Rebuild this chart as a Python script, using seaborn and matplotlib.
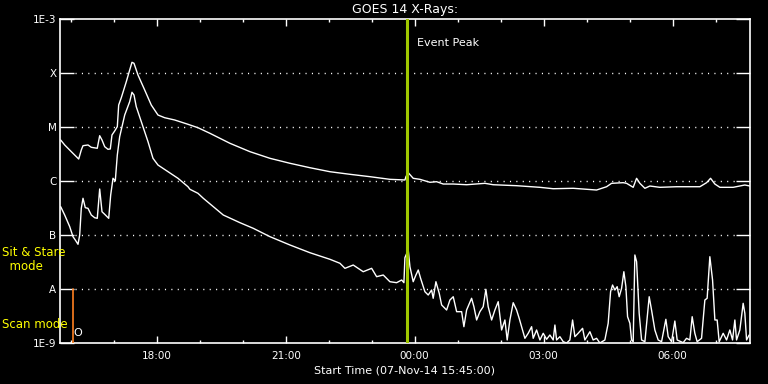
import numpy as np
import pandas as pd
import matplotlib
matplotlib.use("Agg")
import matplotlib.pyplot as plt
import seaborn as sns

# ---------------- data ----------------
# time in hours after start (07-Nov-14 15:45:00), flux as log10(W/m^2)
long_hours = [0.016, 0.109, 0.263, 0.435, 0.495, 0.535, 0.651, 0.728, 0.867, 0.923,
              0.977, 1.040, 1.116, 1.170, 1.209, 1.272, 1.333, 1.365, 1.426, 1.542,
              1.621, 1.674, 1.721, 1.814, 1.970, 2.123, 2.279, 2.435, 2.667, 2.977,
              3.209, 3.488, 3.953, 4.419, 4.884, 5.349, 5.814, 6.279, 6.744, 7.209,
              7.674, 8.023, 8.047, 8.100, 8.216, 8.372, 8.605, 8.760, 8.914, 9.147,
              9.458, 9.884, 10.077, 10.621, 11.163, 11.472, 11.937, 12.481, 12.714, 12.830,
              13.100, 13.179, 13.333, 13.412, 13.488, 13.605, 13.721, 13.953, 14.342, 14.884,
              15.040, 15.133, 15.233, 15.349, 15.658, 15.930, 16.047]
long_log = [-5.241, -5.333, -5.457, -5.593, -5.426, -5.346, -5.333, -5.376, -5.394, -5.161,
            -5.241, -5.365, -5.413, -5.407, -5.148, -5.074, -4.994, -4.593, -4.457, -4.161,
            -3.944, -3.802, -3.820, -4.037, -4.315, -4.593, -4.778, -4.828, -4.870, -4.950,
            -5.013, -5.117, -5.302, -5.457, -5.580, -5.672, -5.754, -5.828, -5.876, -5.920,
            -5.969, -5.981, -5.920, -5.846, -5.950, -5.969, -6.024, -6.013, -6.056, -6.056,
            -6.069, -6.043, -6.069, -6.087, -6.117, -6.143, -6.135, -6.167, -6.106, -6.043,
            -6.031, -6.043, -6.117, -5.950, -6.043, -6.135, -6.093, -6.117, -6.106, -6.106,
            -6.031, -5.950, -6.056, -6.117, -6.117, -6.074, -6.093]

short_hours = [0.016, 0.109, 0.226, 0.302, 0.356, 0.419, 0.458, 0.495, 0.535, 0.588,
               0.651, 0.728, 0.807, 0.867, 0.923, 0.977, 1.040, 1.133, 1.179, 1.233,
               1.286, 1.333, 1.388, 1.505, 1.621, 1.674, 1.721, 1.774, 1.891, 2.047,
               2.163, 2.279, 2.512, 2.744, 2.977, 3.023, 3.209, 3.333, 3.798, 4.186,
               4.495, 4.884, 5.349, 5.814, 6.279, 6.512, 6.628, 6.821, 7.053, 7.249,
               7.365, 7.519, 7.674, 7.830, 7.947, 8.000, 8.023, 8.100, 8.140, 8.216,
               8.279, 8.333, 8.388, 8.488, 8.565, 8.644, 8.681, 8.744, 8.821, 8.877,
               8.993, 9.070, 9.147, 9.226, 9.342, 9.395, 9.458, 9.574, 9.628, 9.691,
               9.767, 9.844, 9.907, 9.960, 10.040, 10.116, 10.193, 10.272, 10.349, 10.402,
               10.465, 10.542, 10.621, 10.681, 10.737, 10.814, 10.891, 10.970, 11.007, 11.086,
               11.163, 11.240, 11.319, 11.395, 11.472, 11.512, 11.551, 11.628, 11.705, 11.784,
               11.860, 11.923, 11.977, 12.053, 12.156, 12.209, 12.326, 12.402, 12.481, 12.558,
               12.674, 12.751, 12.807, 12.853, 12.907, 12.960, 13.007, 13.063, 13.116, 13.163,
               13.202, 13.256, 13.295, 13.333, 13.372, 13.412, 13.472, 13.528, 13.605, 13.705,
               13.760, 13.837, 13.914, 13.993, 14.093, 14.147, 14.226, 14.302, 14.356, 14.495,
               14.574, 14.651, 14.705, 14.767, 14.821, 14.923, 15.000, 15.053, 15.116, 15.179,
               15.233, 15.286, 15.333, 15.426, 15.505, 15.581, 15.644, 15.698, 15.737, 15.814,
               15.891, 15.930, 15.970, 16.030]
short_log = [-6.476, -6.630, -6.846, -7.031, -7.093, -7.172, -7.000, -6.506, -6.320, -6.494,
             -6.506, -6.630, -6.680, -6.691, -6.148, -6.569, -6.617, -6.691, -6.259, -5.950,
             -6.000, -5.519, -5.180, -4.778, -4.531, -4.357, -4.407, -4.624, -4.902, -5.272,
             -5.580, -5.704, -5.828, -5.950, -6.106, -6.154, -6.228, -6.320, -6.630, -6.772,
             -6.876, -7.031, -7.185, -7.328, -7.450, -7.524, -7.617, -7.556, -7.680, -7.617,
             -7.772, -7.741, -7.865, -7.883, -7.833, -7.883, -7.420, -7.278, -7.587, -7.865,
             -7.741, -7.648, -7.802, -8.050, -8.111, -8.019, -8.172, -7.865, -8.080, -8.296,
             -8.389, -8.204, -8.143, -8.420, -8.420, -8.698, -8.389, -8.172, -8.328, -8.574,
             -8.420, -8.328, -8.006, -8.328, -8.574, -8.389, -8.235, -8.759, -8.574, -8.944,
             -8.574, -8.254, -8.389, -8.543, -8.698, -8.913, -8.820, -8.698, -8.913, -8.759,
             -8.944, -8.820, -8.931, -8.852, -8.944, -8.667, -8.944, -8.883, -8.976, -9.000,
             -8.944, -8.574, -8.883, -8.820, -8.728, -8.944, -8.791, -8.944, -8.913, -9.000,
             -8.944, -8.635, -8.050, -7.926, -8.019, -7.957, -8.143, -7.987, -7.680, -7.957,
             -8.513, -8.635, -8.944, -8.976, -7.370, -7.494, -8.450, -8.944, -8.976, -8.143,
             -8.389, -8.759, -8.944, -8.976, -8.561, -8.883, -8.976, -8.593, -8.944, -8.994,
             -8.913, -8.944, -8.513, -8.820, -8.976, -8.913, -8.204, -8.172, -7.402, -7.833,
             -8.574, -8.574, -8.976, -8.820, -8.944, -8.759, -8.944, -8.574, -8.944, -8.759,
             -8.265, -8.450, -8.944, -8.852]

y_tick_values = [1e-9, 1e-8, 1e-7, 1e-6, 1e-5, 1e-4, 1e-3]
y_tick_labels = ["1E-9", "A", "B", "C", "M", "X", "1E-3"]
grid_levels = [1e-8, 1e-7, 1e-6, 1e-5, 1e-4]
x_major_hours = [2.25, 5.25, 8.25, 11.25, 14.25]
x_major_labels = ["18:00", "21:00", "00:00", "03:00", "06:00"]
x_minor_hours = [0.25 + i for i in range(16)]
event_peak_hour = 8.063
scan_mode_hour = 0.31
x_range = (0.0, 16.05)

# ---------------- plot ----------------
sns.set_style("dark")
plt.rcParams["font.family"] = ["DejaVu Sans"]

fig = plt.figure(figsize=(7.68, 3.84), dpi=100, facecolor="black")
ax = fig.add_axes([60 / 768, 41 / 384, 690 / 768, 324 / 384])
ax.set_facecolor("black")

df_long = pd.DataFrame({"hours": long_hours, "flux": 10 ** np.array(long_log)})
df_short = pd.DataFrame({"hours": short_hours, "flux": 10 ** np.array(short_log)})

for lev in grid_levels:
    ax.axhline(lev, xmin=15 / 690, xmax=676 / 690, color="white",
               lw=1.0, ls=(0, (0.8, 3.8)), zorder=1)

sns.lineplot(data=df_long, x="hours", y="flux", ax=ax, color="white",
             lw=1.0, estimator=None, sort=False, zorder=3)
sns.lineplot(data=df_short, x="hours", y="flux", ax=ax, color="white",
             lw=1.0, estimator=None, sort=False, zorder=3)

ax.set_yscale("log")
ax.set_ylim(1e-9, 1e-3)
ax.set_xlim(*x_range)

ax.axvline(event_peak_hour, color="#a0c800", lw=2.2, zorder=4)
ax.plot([scan_mode_hour, scan_mode_hour], [1e-9, 1e-8], color="#ff8020", lw=1.2, zorder=4)
ax.text(0.41, 10 ** -8.82, "O", color="white", fontsize=8, ha="center", va="center")

ax.text(event_peak_hour + 0.25, 10 ** -3.45, "Event Peak", color="white",
        fontsize=8, ha="left", va="center")

ax.set_yticks(y_tick_values)
ax.set_yticklabels(y_tick_labels)
ax.yaxis.set_minor_locator(matplotlib.ticker.NullLocator())
ax.set_xticks(x_major_hours)
ax.set_xticklabels(x_major_labels)
ax.set_xticks(x_minor_hours, minor=True)

ax.tick_params(axis="y", which="major", direction="in", length=10, width=1,
               colors="white", left=True, right=True, labelsize=7.5, pad=2.5)
ax.tick_params(axis="x", which="major", direction="in", length=5, width=1,
               colors="white", top=True, bottom=True, labelsize=7.5, pad=6)
ax.tick_params(axis="x", which="minor", direction="in", length=2.5, width=1,
               colors="white", top=True, bottom=True)

for sp in ax.spines.values():
    sp.set_visible(True)
    sp.set_color("white")
    sp.set_linewidth(1.2)
ax.grid(False)

ax.set_xlabel("Start Time (07-Nov-14 15:45:00)", color="white", fontsize=8, labelpad=3)
ax.set_ylabel("")
ax.set_title("GOES 14 X-Rays:", color="white", fontsize=9, pad=4)

fig.text(2 / 768, 1 - 259 / 384, "Sit & Stare\n  mode", color="yellow", fontsize=8.5,
         ha="left", va="center", linespacing=1.1)
fig.text(2 / 768, 1 - 324 / 384, "Scan mode", color="yellow", fontsize=8.5,
         ha="left", va="center")

fig.savefig("out.png", dpi=100, facecolor="black")
